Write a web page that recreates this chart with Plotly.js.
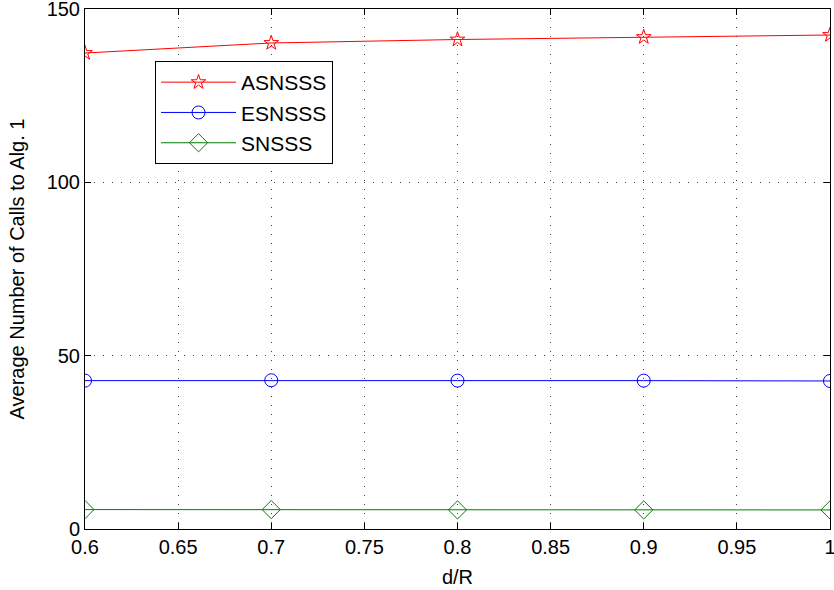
<!DOCTYPE html>
<html><head><meta charset="utf-8">
<script src="https://cdn.plot.ly/plotly-3.0.1.min.js"></script>
<style>body{margin:0;background:#fff}#chart{width:834px;height:590px}</style>
</head><body><div id="chart"></div>
<script>
const dR = [0.6, 0.7, 0.8, 0.9, 1.0];
const asnsss = [137.3, 140.2, 141.2, 141.9, 142.5];
const esnsss = [42.8, 42.9, 42.8, 42.8, 42.7];
const snsss = [5.6, 5.6, 5.5, 5.5, 5.5];
const seriesNames = ['ASNSSS', 'ESNSSS', 'SNSSS'];
const xTicks = [0.6, 0.65, 0.7, 0.75, 0.8, 0.85, 0.9, 0.95, 1];
const xTickText = ['0.6', '0.65', '0.7', '0.75', '0.8', '0.85', '0.9', '0.95', '1'];
const yTicks = [0, 50, 100, 150];

const font = {family: 'Liberation Sans, Arial, sans-serif', size: 20, color: '#000'};
const legendFont = {family: 'Liberation Sans, Arial, sans-serif', size: 21, color: '#000'};
const traces = [
  {x: dR, y: asnsss, name: seriesNames[0], mode: 'lines+markers', line: {color: '#ff0000', width: 1},
   marker: {symbol: 'star-open', size: 11, color: '#ff0000', line: {width: 1, color: '#ff0000'}}},
  {x: dR, y: esnsss, name: seriesNames[1], mode: 'lines+markers', line: {color: '#0000ff', width: 1},
   marker: {symbol: 'circle-open', size: 13, color: '#0000ff', line: {width: 1, color: '#0000ff'}}},
  {x: dR, y: snsss, name: seriesNames[2], mode: 'lines+markers', line: {color: '#008000', width: 1},
   marker: {symbol: 'diamond-open', size: 14, color: '#008000', line: {width: 1, color: '#008000'}}}
];
const axisCommon = {
  showline: true, linecolor: '#000', linewidth: 1, mirror: 'ticks',
  ticks: 'inside', ticklen: 6, tickcolor: '#000',
  showgrid: true, gridcolor: '#444', griddash: '1px,8px', gridwidth: 1,
  zeroline: false, tickfont: font, ticklabeloverflow: 'allow'
};
const layout = {
  width: 834, height: 590,
  margin: {l: 85, r: 4, t: 9, b: 61},
  paper_bgcolor: '#fff', plot_bgcolor: '#fff',
  font: font,
  showlegend: true,
  legend: {x: 0.094, y: 0.9, xanchor: 'left', yanchor: 'top', bgcolor: '#fff',
           bordercolor: '#000', borderwidth: 1, font: legendFont, tracegroupgap: 0, itemwidth: 75},
  xaxis: Object.assign({}, axisCommon, {range: [0.6, 1.00001], tickmode: 'array',
    tickvals: xTicks, ticktext: xTickText,
    title: {text: 'd/R', font: font, standoff: 12}}),
  yaxis: Object.assign({}, axisCommon, {range: [0, 150.001], tickmode: 'array', tickvals: yTicks,
    title: {text: 'Average Number of Calls to Alg. 1', font: font, standoff: 16}})
};
Plotly.newPlot('chart', traces, layout, {displayModeBar: false, staticPlot: true});
</script></body></html>
